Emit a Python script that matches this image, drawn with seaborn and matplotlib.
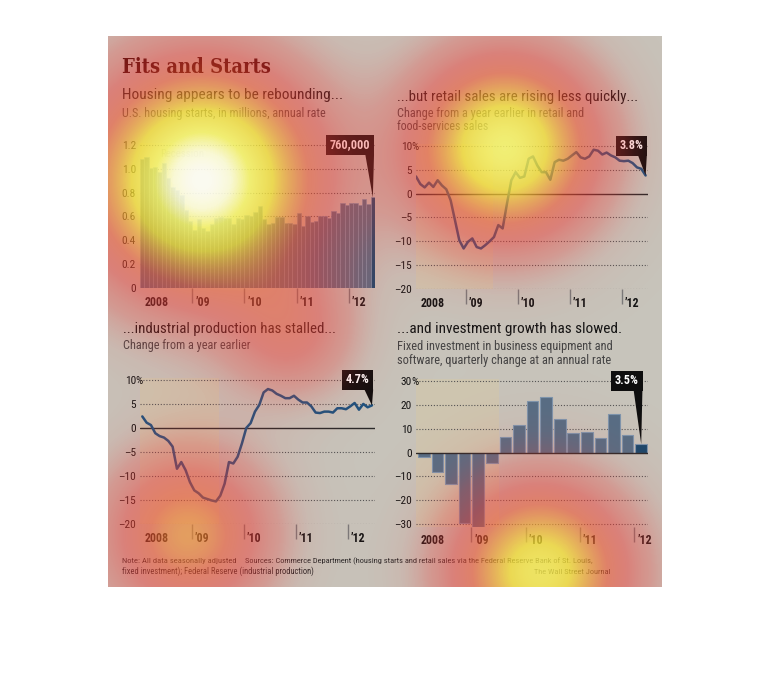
import numpy as np
import pandas as pd
import matplotlib
matplotlib.use("Agg")
import matplotlib.pyplot as plt
import seaborn as sns
from matplotlib import font_manager
from matplotlib.patches import Rectangle, Polygon
from matplotlib.colors import LinearSegmentedColormap
from matplotlib.transforms import IdentityTransform

# ---------------- data ----------------
year_labels = ["2008", "\u201909", "\u201910", "\u201911", "\u201912"]

# U.S. housing starts, millions, annual rate (Jan 2008 - Jun 2012)
housing_starts = [1.084, 1.103, 1.005, 1.013, 0.973, 1.046, 0.923, 0.844, 0.820, 0.777, 0.652, 0.560,
                  0.490, 0.582, 0.505, 0.478, 0.540, 0.585, 0.594, 0.586, 0.585, 0.534, 0.588, 0.581,
                  0.614, 0.604, 0.636, 0.687, 0.583, 0.536, 0.546, 0.599, 0.594, 0.543, 0.545, 0.539,
                  0.630, 0.517, 0.600, 0.554, 0.561, 0.608, 0.604, 0.585, 0.650, 0.628, 0.711, 0.697,
                  0.717, 0.711, 0.699, 0.744, 0.708, 0.760]

# Retail and food-services sales, % change from a year earlier
retail_sales = [3.6, 2.0, 1.3, 2.3, 1.4, 2.8, 1.7, 0.9, -1.4, -5.6, -9.8, -11.5,
                -10.1, -9.4, -11.2, -11.5, -10.8, -10.0, -9.1, -6.6, -7.3, -2.1, 2.8, 4.5,
                3.3, 3.6, 7.3, 7.8, 5.9, 4.5, 4.5, 2.9, 6.6, 7.1, 6.9, 7.3,
                8.0, 8.7, 7.6, 7.3, 7.8, 9.2, 9.0, 8.2, 8.6, 8.0, 7.6, 6.9,
                6.8, 6.9, 6.4, 5.5, 5.2, 3.8]

# Industrial production, % change from a year earlier
industrial_production = [2.4, 1.1, 0.6, -1.1, -1.7, -2.0, -2.7, -3.9, -8.5, -7.1, -8.8, -11.3,
                         -13.0, -13.6, -14.5, -14.8, -15.1, -15.3, -14.1, -11.6, -7.1, -7.4, -6.0, -3.2,
                         0.0, 1.0, 3.4, 4.8, 7.4, 8.1, 7.8, 7.1, 6.7, 6.2, 6.2, 6.7,
                         5.9, 5.3, 5.3, 4.5, 3.2, 3.1, 3.4, 3.4, 3.2, 4.1, 4.1, 3.9,
                         4.5, 5.2, 3.8, 5.0, 4.3, 4.7]

# Fixed investment in equipment & software, quarterly change at annual rate (Q1 2008 - Q1 2012)
equipment_investment = [-1.7, -8.0, -13.2, -29.5, -31.1, -4.2, 6.5, 11.6, 21.7, 23.3,
                        14.2, 8.1, 8.6, 6.2, 16.1, 7.4, 3.5]

housing_ticks = [0, 0.2, 0.4, 0.6, 0.8, 1.0, 1.2]
retail_ticks = [-20, -15, -10, -5, 0, 5, 10]
industrial_ticks = [-20, -15, -10, -5, 0, 5, 10]
investment_ticks = [-30, -20, -10, 0, 10, 20, 30]

recession_end_month = 17.5      # end of June 2009 (month index)
recession_end_quarter = 5.5     # end of Q2 2009 (quarter index)
month_year_breaks = [11.5, 23.5, 35.5, 47.5]
quarter_year_breaks = [3.5, 7.5, 11.5, 15.5]

# attention heat overlay hotspots: (x px, y px, spread px, strength)
attention_spots = [(202, 180, 80, 1.0), (505, 148, 64, 0.84), (540, 572, 62, 0.76),
                   (188, 535, 58, 0.52), (292, 335, 45, 0.26)]

# ---------------- style ----------------
W, H = 770, 682
BG = "#c7c4bb"
SHADE = "#cec6b0"
GRID = "#555555"
ZERO = "#2a2a2a"
TXT = "#141414"
SUB = "#444444"
BAR = "#4d6e8d"
BAR_EDGE = "#7c95ad"
BAR_LAST = "#0b4a7a"
LINE = "#1b527f"
BOX = "#0e0e0e"
TITLE = "#2e0603"

sns.set_style("white")
ttf = font_manager.fontManager.ttflist
avail = {f.name for f in ttf}


def pick(names, default):
    for n in names:
        if n in avail:
            return n
    return default


SANS = pick(["Liberation Sans Narrow", "Roboto Condensed", "Roboto", "Open Sans"], "DejaVu Sans")
has_cond_serif = any(f.name == "DejaVu Serif" and f.stretch == "condensed" and f.weight in ("bold", 700)
                     for f in ttf)
if has_cond_serif:
    TITLE_FONT = dict(family=["DejaVu Serif"], fontstretch="condensed")
else:
    TITLE_FONT = dict(family=[pick(["Liberation Serif", "DejaVu Serif"], "DejaVu Serif"), "DejaVu Serif"])
plt.rcParams["font.family"] = [SANS, "DejaVu Sans"]

fig = plt.figure(figsize=(W / 100, H / 100), dpi=100, facecolor="white")
fig.add_artist(Rectangle((108 / W, 1 - 587 / H), 554 / W, 551 / H, transform=fig.transFigure,
                         fc=BG, ec="none", zorder=-1))


def ax_at(l, t, r, b):
    ax = fig.add_axes([l / W, 1 - b / H, (r - l) / W, (b - t) / H])
    ax.patch.set_visible(False)
    return ax


fits = []


def ftext(x, y, s, width, size, **kw):
    t = fig.text(x / W, 1 - y / H, s, fontsize=size, va="baseline", **kw)
    fits.append((t, width))
    return t


def grid(ax, ticks, skip_zero=True):
    for v in ticks:
        if skip_zero and v == 0:
            continue
        ax.axhline(v, color=GRID, lw=0.8, ls=(0, (1, 1.6)), zorder=1)


def y_labels(ax, ticks, fmt, pct):
    for v in ticks:
        ax.annotate(fmt(v), xy=(0, v), xycoords=("axes fraction", "data"), xytext=(-4, 0),
                    textcoords="offset pixels", ha="right", va="center_baseline",
                    fontsize=8.2, color=TXT, annotation_clip=False)
    if pct:
        ax.annotate("%", xy=(0, ticks[-1]), xycoords=("axes fraction", "data"), xytext=(-5, 0),
                    textcoords="offset pixels", ha="left", va="center_baseline",
                    fontsize=8.2, color=TXT, annotation_clip=False)


def year_axis(ax, breaks, left):
    ax.set_xticks(breaks)
    ax.set_yticks([])
    ax.tick_params(axis="x", bottom=True, length=11, width=1, color="#7a7a7a",
                   direction="out", labelbottom=False)
    for pos, lab, off in zip([left] + breaks, year_labels, [5, 3, 3, 3, 3]):
        ax.annotate(lab, xy=(pos, 0), xycoords=("data", "axes fraction"), xytext=(off, -14),
                    textcoords="offset pixels", ha="left", va="center", fontsize=8.6,
                    fontweight="bold", color=TXT, annotation_clip=False)
    ax.set_xlabel("")
    ax.set_ylabel("")
    sns.despine(ax=ax, left=True, bottom=True)


def pct_fmt(v):
    return ("\u2013" + str(abs(v))) if v < 0 else str(v)


callouts = []


def callout(ax, x_last, y_last, y_box, label):
    t = ax.annotate(label, xy=(x_last, y_box), xycoords="data", xytext=(-2.3, 0),
                    textcoords="offset pixels", ha="right", va="center", fontsize=8.8,
                    fontweight="bold", color="white", zorder=6, annotation_clip=False,
                    bbox=dict(boxstyle="square,pad=0.3", fc=BOX, ec="none"))
    callouts.append((ax, t, x_last, y_last))


# ---------------- panel 1: housing starts ----------------
ax1 = ax_at(140, 142.6, 375, 288)
n1 = len(housing_starts)
df1 = pd.DataFrame({"m": np.arange(n1), "v": housing_starts,
                    "k": ["prior"] * (n1 - 1) + ["latest"]})
ax1.axvspan(-5, recession_end_month, color=SHADE, lw=0, zorder=0)
grid(ax1, housing_ticks)
sns.barplot(data=df1, x="m", y="v", hue="k", palette={"prior": BAR, "latest": BAR_LAST},
            dodge=False, width=1.0, edgecolor=BAR_EDGE, linewidth=0.45, errorbar=None,
            legend=False, ax=ax1, zorder=2)
ax1.set_xlim(-0.5, n1 - 0.5)
ax1.set_ylim(0, 1.22)
year_axis(ax1, month_year_breaks, -0.5)
y_labels(ax1, housing_ticks, lambda v: "0" if v == 0 else f"{v:.1f}", False)
ax1.text(4.1, 1.125, "Recession", fontsize=7.8, color="#a39c86", va="center", ha="left", zorder=1.5)
callout(ax1, n1 - 1, housing_starts[-1], housing_ticks[-1],
        f"{int(round(housing_starts[-1] * 1e6)):,}")

# ---------------- panel 2: retail sales ----------------
ax2 = ax_at(416, 144, 648, 289)
m2 = np.arange(len(retail_sales))
ax2.axvspan(-5, recession_end_month + 0.2, color=SHADE, lw=0, zorder=0)
grid(ax2, retail_ticks)
ax2.axhline(0, color=ZERO, lw=1.0, zorder=2)
sns.lineplot(x=m2, y=retail_sales, color=LINE, linewidth=1.8, ax=ax2, zorder=3)
ax2.set_xlim(0, 53.55)
ax2.set_ylim(-20, 10.4)
year_axis(ax2, month_year_breaks, 0)
y_labels(ax2, retail_ticks, pct_fmt, True)
callout(ax2, m2[-1], retail_sales[-1], retail_ticks[-1], f"{retail_sales[-1]:.1f}%")

# ---------------- panel 3: industrial production ----------------
ax3 = ax_at(140, 378, 375, 524)
m3 = np.arange(len(industrial_production))
ax3.axvspan(-5, recession_end_month + 0.2, color=SHADE, lw=0, zorder=0)
grid(ax3, industrial_ticks)
ax3.axhline(0, color=ZERO, lw=1.0, zorder=2)
sns.lineplot(x=m3, y=industrial_production, color=LINE, linewidth=1.8, ax=ax3, zorder=3)
ax3.set_xlim(-0.53, 53.7)
ax3.set_ylim(-20, 10.4)
year_axis(ax3, month_year_breaks, -0.53)
y_labels(ax3, industrial_ticks, pct_fmt, True)
callout(ax3, m3[-1], industrial_production[-1], industrial_ticks[-1],
        f"{industrial_production[-1]:.1f}%")

# ---------------- panel 4: equipment investment ----------------
ax4 = ax_at(416, 378.6, 648, 526.9)
n4 = len(equipment_investment)
df4 = pd.DataFrame({"q": np.arange(n4), "v": equipment_investment,
                    "k": ["prior"] * (n4 - 1) + ["latest"]})
ax4.axvspan(-5, recession_end_quarter, color=SHADE, lw=0, zorder=0)
grid(ax4, investment_ticks)
sns.barplot(data=df4, x="q", y="v", hue="k", palette={"prior": BAR, "latest": BAR_LAST},
            dodge=False, width=0.86, edgecolor=BAR_EDGE, linewidth=0.8, errorbar=None,
            legend=False, ax=ax4, zorder=2)
ax4.axhline(0, color=ZERO, lw=1.0, zorder=3)
ax4.set_xlim(-0.58, 16.5)
ax4.set_ylim(-31.2, 31)
year_axis(ax4, quarter_year_breaks, -0.58)
y_labels(ax4, investment_ticks, pct_fmt, True)
callout(ax4, n4 - 1, equipment_investment[-1], investment_ticks[-1],
        f"{equipment_investment[-1]:.1f}%")

# ---------------- texts ----------------
ftext(122, 73, "Fits and Starts", 149, 20, fontweight="bold", color=TITLE, **TITLE_FONT)
ftext(122, 99.5, "Housing appears to be rebounding...", 220, 11, color=TXT)
ftext(122, 116.7, "U.S. housing starts, in millions, annual rate", 204, 9, color=SUB)
ftext(397, 100.5, "...but retail sales are rising less quickly...", 239, 11, color=TXT)
ftext(397, 116.5, "Change from a year earlier in retail and", 187, 9, color=SUB)
ftext(397, 130.0, "food-services sales", 92, 9, color=SUB)
ftext(123, 332.5, "...industrial production has stalled...", 212, 11, color=TXT)
ftext(123, 349.0, "Change from a year earlier", 128, 9, color=SUB)
ftext(397, 332.5, "...and investment growth has slowed.", 225, 11, color=TXT)
ftext(397, 350.0, "Fixed investment in business equipment and", 216, 9, color=SUB)
ftext(397, 364.0, "software, quarterly change at an annual rate", 216, 9, color=SUB)
ftext(122, 563.5, "Note: All data seasonally adjusted", 114, 7, color="#2a2a2a")
ftext(245, 563.5, "Sources: Commerce Department (housing starts and retail sales via the "
      "Federal Reserve Bank of St. Louis,", 352, 7, color="#2a2a2a")
ftext(122, 573.8, "fixed investment); Federal Reserve (industrial production)", 194, 7,
      color="#2a2a2a")
ftext(610, 573.8, "The Wall Street Journal", 78, 7, color="#2a2a2a", ha="right")

fig.canvas.draw()
r = fig.canvas.get_renderer()
for t, w in fits:
    cur = t.get_window_extent(r).width
    if cur > 0:
        t.set_fontsize(t.get_fontsize() * w / cur)
fig.canvas.draw()
r = fig.canvas.get_renderer()

for ax, t, xl, yl in callouts:
    bb = t.get_bbox_patch().get_window_extent(r)
    tip = ax.transData.transform((xl, yl))
    poly = Polygon([(tip[0] - 7.5, bb.y0 + 0.5), (tip[0] + 1.2, bb.y0 + 0.5), (tip[0], tip[1])],
                   closed=True, fc=BOX, ec="none", transform=IdentityTransform(), zorder=6)
    fig.add_artist(poly)

# ---------------- attention heat overlay ----------------
xs = np.arange(108, 662) + 0.5
ys = np.arange(36, 587) + 0.5
X, Y = np.meshgrid(xs, ys)
heat = np.zeros_like(X)
for cx, cy, s, a in attention_spots:
    heat += a * np.exp(-((X - cx) ** 2 + (Y - cy) ** 2) / (2 * s * s))
heat = np.clip(heat, 0, 1)
heat_cmap = LinearSegmentedColormap.from_list("attn", [
    (0.00, (0.94, 0.22, 0.20, 0.00)),
    (0.06, (0.94, 0.22, 0.20, 0.08)),
    (0.15, (0.94, 0.22, 0.20, 0.30)),
    (0.28, (0.94, 0.22, 0.20, 0.48)),
    (0.42, (0.95, 0.32, 0.18, 0.58)),
    (0.55, (0.96, 0.60, 0.18, 0.66)),
    (0.68, (0.97, 0.88, 0.20, 0.76)),
    (0.84, (0.98, 0.97, 0.40, 0.84)),
    (0.94, (1.00, 1.00, 0.85, 0.89)),
    (1.00, (1.00, 1.00, 0.97, 0.92)),
])
axh = fig.add_axes([108 / W, 1 - 587 / H, 554 / W, 551 / H])
axh.imshow(heat, cmap=heat_cmap, vmin=0, vmax=1, extent=(108, 662, 587, 36),
           interpolation="bilinear", aspect="auto")
axh.set_axis_off()
axh.set_zorder(10)

fig.savefig("out.png", dpi=100, facecolor="white")
